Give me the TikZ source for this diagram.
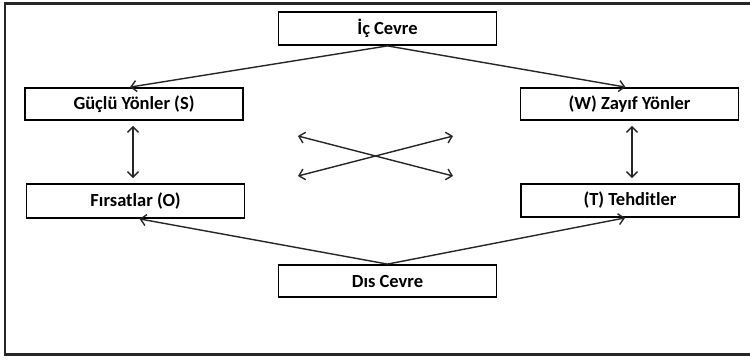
\documentclass[tikz,border=0pt]{standalone}
\usepackage{fontspec}
\setmainfont{Carlito}
\usetikzlibrary{arrows.meta}
\tikzset{
  boxnode/.style={draw=black, line width=1.8pt, rectangle, inner sep=0pt,
    minimum width=218pt, minimum height=32pt,
    font=\fontsize{18.5}{20}\selectfont\bfseries},
  conn/.style={draw=black!85, line width=1.4pt, -{Straight Barb[length=5.5pt,width=11pt,line width=1.4pt]}},
  dconn/.style={draw=black!85, line width=1.4pt, {Straight Barb[length=5.5pt,width=11pt,line width=1.4pt]}-{Straight Barb[length=5.5pt,width=11pt,line width=1.4pt]}},
}
\begin{document}
\begin{tikzpicture}[x=1pt,y=-1pt]
\useasboundingbox (0,0) rectangle (750,359);
\fill[white] (0,0) rectangle (750,359);
% frame (no right side visible)
\draw[line width=2.5pt, black!85] (750,3.5) -- (5,3.5) -- (5,354.5) -- (750,354.5);
% boxes
\node[boxnode, minimum height=33pt] (ic) at (387.5,28.5) {İç Cevre};
\node[boxnode] (s) at (134,104) {Güçlü Yönler (S)};
\node[boxnode] (w) at (629.5,104) {(W) Zayıf Yönler};
\node[boxnode, minimum height=34pt] (o) at (135.5,201) {Fırsatlar (O)};
\node[boxnode, minimum height=33pt] (t) at (630,200.5) {(T) Tehditler};
\node[boxnode] (dis) at (387.5,281) {Dıs Cevre};
% arrows from internal environment
\draw[conn] (ic.south) -- ([xshift=-4pt]s.north);
\draw[conn] (ic.south) -- ([xshift=-4pt]w.north);
% arrows from external environment
\draw[conn] (dis.north) -- ([xshift=4pt]o.south);
\draw[conn] (dis.north) -- ([xshift=-5pt]t.south);
% vertical double arrows
\draw[dconn, shorten <=5pt, shorten >=5pt] ([xshift=-1pt]s.south) -- ([xshift=-2.5pt]o.north);
\draw[dconn, shorten <=5pt, shorten >=5pt] ([xshift=2.5pt]w.south) -- ([xshift=2pt]t.north);
% cross arrows
\coordinate (c1) at (298,136);
\coordinate (c2) at (453,176);
\coordinate (c3) at (298,176);
\coordinate (c4) at (453,136);
\draw[dconn] (c1) -- (c2);
\draw[dconn] (c3) -- (c4);
\end{tikzpicture}
\end{document}
